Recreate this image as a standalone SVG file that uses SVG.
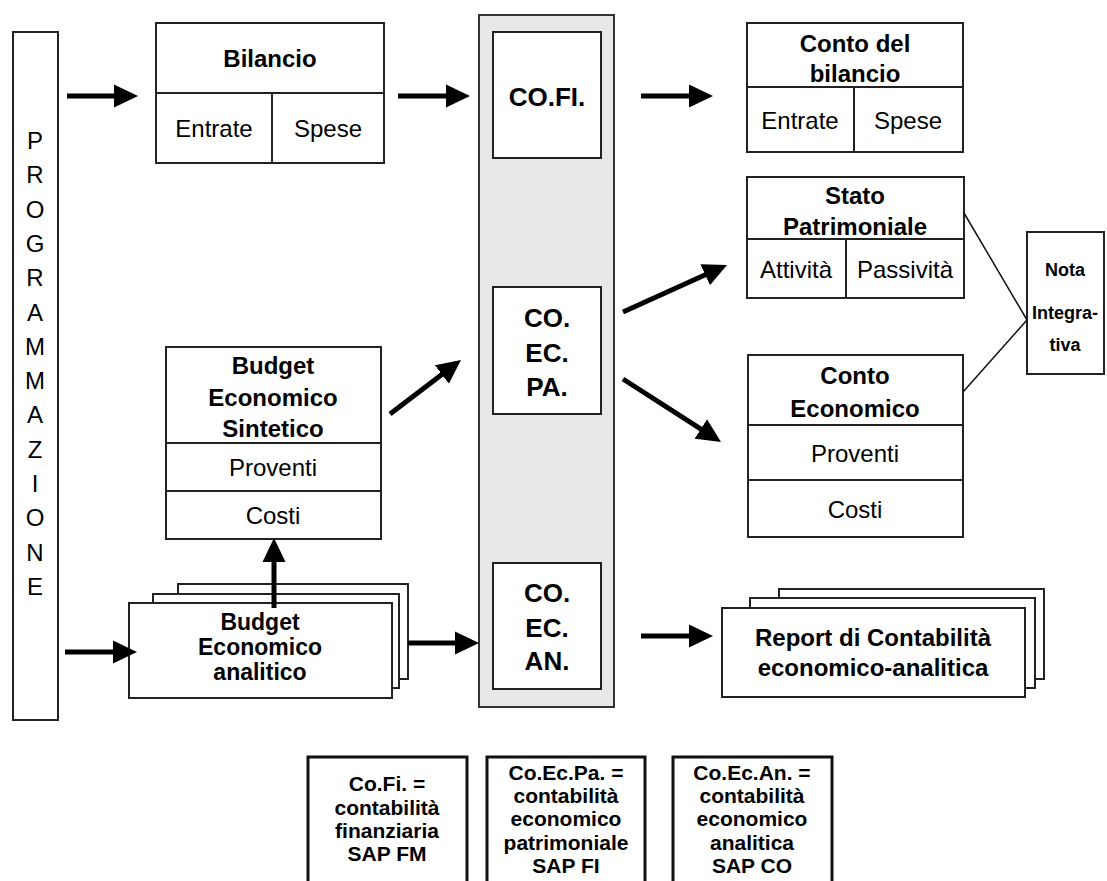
<svg xmlns="http://www.w3.org/2000/svg" width="1107" height="881" viewBox="0 0 1107 881">
<defs>
<style>
.box{fill:#fff;stroke:#222;stroke-width:2}
.col{fill:#e8e8e8;stroke:#333;stroke-width:2}
.leg{fill:#fff;stroke:#111;stroke-width:3}
.div{stroke:#222;stroke-width:2;fill:none}
.thin{stroke:#111;stroke-width:1.5;fill:none}
.arr{stroke:#000;stroke-width:5;fill:none;marker-end:url(#ah)}
text{font-family:"Liberation Sans",Arial,sans-serif;fill:#000;text-anchor:middle;dominant-baseline:central}
.b{font-weight:bold;font-size:24px}
.ba{font-weight:bold;font-size:23px}
.r{font-size:24px}
.co{font-weight:bold;font-size:26px}
.n{font-weight:bold;font-size:18px}
.l{font-weight:bold;font-size:21px}
</style>
<marker id="ah" markerUnits="userSpaceOnUse" markerWidth="24" markerHeight="24" viewBox="0 0 24 24" refX="2" refY="12" orient="auto">
<path d="M0,0.5 L24,12 L0,23.5 z" fill="#000"/>
</marker>
</defs>
<rect width="1107" height="881" fill="#fff"/>

<g id="programmazione">
<rect class="box" x="13" y="32" width="45" height="688"/>
<text class="r" x="35" y="140">P</text>
<text class="r" x="35" y="174">R</text>
<text class="r" x="35" y="209">O</text>
<text class="r" x="35" y="243">G</text>
<text class="r" x="35" y="277">R</text>
<text class="r" x="35" y="312">A</text>
<text class="r" x="35" y="346">M</text>
<text class="r" x="35" y="380">M</text>
<text class="r" x="35" y="414">A</text>
<text class="r" x="35" y="449">Z</text>
<text class="r" x="35" y="483">I</text>
<text class="r" x="35" y="517">O</text>
<text class="r" x="35" y="552">N</text>
<text class="r" x="35" y="586">E</text>
</g>

<g id="bilancio">
<rect class="box" x="156" y="23" width="228" height="140"/>
<line class="div" x1="156" y1="93" x2="384" y2="93"/>
<line class="div" x1="272" y1="93" x2="272" y2="163"/>
<text class="b" x="270" y="58">Bilancio</text>
<text class="r" x="214" y="128">Entrate</text>
<text class="r" x="328" y="128">Spese</text>
</g>

<g id="colonna">
<rect class="col" x="479" y="15" width="135" height="692"/>
</g>

<g id="cofi">
<rect class="box" x="493" y="32" width="108" height="126"/>
<text class="co" x="547" y="97">CO.FI.</text>
</g>

<g id="coecpa">
<rect class="box" x="493" y="287" width="108" height="127"/>
<text class="co" x="547" y="318">CO.</text>
<text class="co" x="547" y="353">EC.</text>
<text class="co" x="547" y="387">PA.</text>
</g>

<g id="coecan">
<rect class="box" x="493" y="563" width="108" height="126"/>
<text class="co" x="547" y="593">CO.</text>
<text class="co" x="547" y="628">EC.</text>
<text class="co" x="547" y="661">AN.</text>
</g>

<g id="conto-bilancio">
<rect class="box" x="747" y="23" width="216" height="129"/>
<line class="div" x1="747" y1="87" x2="963" y2="87"/>
<line class="div" x1="854" y1="87" x2="854" y2="152"/>
<text class="b" x="855" y="43">Conto del</text>
<text class="b" x="855" y="73">bilancio</text>
<text class="r" x="800" y="120">Entrate</text>
<text class="r" x="908" y="120">Spese</text>
</g>

<g id="stato-patrimoniale">
<rect class="box" x="747" y="177" width="217" height="121"/>
<line class="div" x1="747" y1="239" x2="964" y2="239"/>
<line class="div" x1="846" y1="239" x2="846" y2="298"/>
<text class="b" x="855" y="195">Stato</text>
<text class="b" x="855" y="226">Patrimoniale</text>
<text class="r" x="796" y="269">Attività</text>
<text class="r" x="905" y="269">Passività</text>
</g>

<g id="conto-economico">
<rect class="box" x="748" y="355" width="215" height="182"/>
<line class="div" x1="748" y1="425" x2="963" y2="425"/>
<line class="div" x1="748" y1="480" x2="963" y2="480"/>
<text class="b" x="855" y="375">Conto</text>
<text class="b" x="855" y="408">Economico</text>
<text class="r" x="855" y="453">Proventi</text>
<text class="r" x="855" y="509">Costi</text>
</g>

<g id="nota-integrativa">
<rect class="box" x="1027" y="232" width="77" height="142"/>
<text class="n" x="1065" y="270">Nota</text>
<text class="n" x="1065" y="313">Integra-</text>
<text class="n" x="1065" y="345">tiva</text>
</g>

<g id="budget-sintetico">
<rect class="box" x="166" y="347" width="215" height="192"/>
<line class="div" x1="166" y1="443" x2="381" y2="443"/>
<line class="div" x1="166" y1="491" x2="381" y2="491"/>
<text class="b" x="273" y="365">Budget</text>
<text class="b" x="273" y="397">Economico</text>
<text class="b" x="273" y="428">Sintetico</text>
<text class="r" x="273" y="467">Proventi</text>
<text class="r" x="273" y="515">Costi</text>
</g>

<g id="budget-analitico">
<rect class="box" x="178" y="584" width="230" height="95"/>
<rect class="box" x="153" y="594" width="246" height="94"/>
<rect class="box" x="129" y="603" width="263" height="95"/>
<text class="ba" x="260" y="622">Budget</text>
<text class="ba" x="260" y="647">Economico</text>
<text class="ba" x="260" y="672">analitico</text>
</g>

<g id="report">
<rect class="box" x="779" y="589" width="265" height="90"/>
<rect class="box" x="750" y="598" width="285" height="90"/>
<rect class="box" x="722" y="608" width="303" height="89"/>
<text class="b" x="873" y="637">Report di Contabilità</text>
<text class="b" x="873" y="667">economico-analitica</text>
</g>

<g id="legenda-cofi">
<rect class="leg" x="308" y="757" width="159" height="140"/>
<text class="l" x="387" y="783">Co.Fi. =</text>
<text class="l" x="387" y="807">contabilità</text>
<text class="l" x="387" y="830">finanziaria</text>
<text class="l" x="387" y="853">SAP FM</text>
</g>

<g id="legenda-coecpa">
<rect class="leg" x="487" y="757" width="158" height="140"/>
<text class="l" x="566" y="772">Co.Ec.Pa. =</text>
<text class="l" x="566" y="795">contabilità</text>
<text class="l" x="566" y="818">economico</text>
<text class="l" x="566" y="842">patrimoniale</text>
<text class="l" x="566" y="865">SAP FI</text>
</g>

<g id="legenda-coecan">
<rect class="leg" x="673" y="757" width="159" height="140"/>
<text class="l" x="752" y="772">Co.Ec.An. =</text>
<text class="l" x="752" y="795">contabilità</text>
<text class="l" x="752" y="818">economico</text>
<text class="l" x="752" y="842">analitica</text>
<text class="l" x="752" y="865">SAP CO</text>
</g>

<g id="connectors">
<line class="arr" x1="67" y1="96" x2="116" y2="96"/>
<line class="arr" x1="398" y1="96" x2="448" y2="96"/>
<line class="arr" x1="641" y1="96" x2="691" y2="96"/>
<line class="arr" x1="390" y1="414" x2="443.5" y2="373.3"/>
<line class="arr" x1="623" y1="312" x2="707" y2="274"/>
<line class="arr" x1="623" y1="379" x2="702.5" y2="430.1"/>
<line class="arr" x1="274" y1="608" x2="274" y2="560"/>
<line class="arr" x1="65" y1="652" x2="115" y2="652"/>
<line class="arr" x1="408" y1="643" x2="457" y2="643"/>
<line class="arr" x1="641" y1="636" x2="691" y2="636"/>
<line class="thin" x1="964" y1="213" x2="1027" y2="320"/>
<line class="thin" x1="963" y1="392" x2="1027" y2="320"/>
</g>
</svg>
